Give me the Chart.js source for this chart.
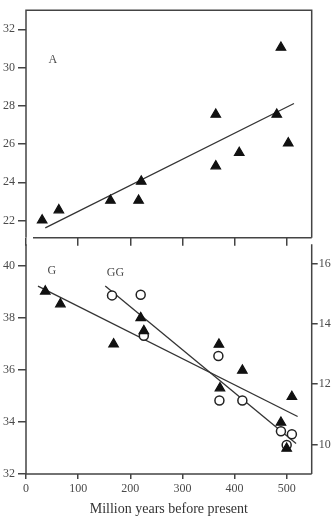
<!DOCTYPE html>
<html><head><meta charset="utf-8">
<script src="https://cdn.jsdelivr.net/npm/chart.js@4"></script>
<style>
html,body{margin:0;padding:0;background:#fff;}
#wrap{position:relative;width:335px;height:517px;overflow:hidden;background:#fff;}
canvas{position:absolute;left:0;}
#c1{top:0;}
#c2{top:234px;}
</style></head><body>
<div id="wrap">
<canvas id="c1" width="335" height="248"></canvas>
<canvas id="c2" width="335" height="283"></canvas>
</div>
<script>
// ---- Panel A (top) ----
const agesA   = [31, 63, 162, 216, 221, 364, 364, 409, 481, 489, 503];
const valuesA = [22.02, 22.55, 23.05, 23.05, 24.05, 27.55, 24.85, 25.55, 27.55, 31.05, 26.05];
const fitAges_A   = [37, 514];
const fitValues_A = [21.62, 28.12];

// ---- Panel G (bottom, left axis) ----
const agesG   = [37, 66, 168, 220, 226, 370, 372, 415, 489, 500, 510];
const valuesG = [39.02, 38.53, 36.99, 38.0, 37.5, 36.98, 35.3, 35.98, 33.98, 32.98, 34.97];
const fitAges_G   = [23, 521];
const fitValues_G = [39.22, 34.21];

// ---- Panel GG (bottom, right axis) ----
const agesGG   = [165, 220, 226, 369, 371, 415, 489, 510, 500];
const valuesGG = [14.95, 14.97, 13.61, 12.94, 11.46, 11.46, 10.44, 10.34, 9.98];
const fitAges_GG   = [152, 518];
const fitValues_GG = [15.26, 10.03];

// ---- tick labels ----
const xTicks   = [0, 100, 200, 300, 400, 500];
const yTicksA  = [22, 24, 26, 28, 30, 32];
const yTicksG  = [32, 34, 36, 38, 40];
const yTicksGG = [10, 12, 14, 16];
const xTitle = 'Million years before present';

const pts = (xs, ys) => xs.map((x, i) => ({x: x, y: ys[i]}));
const SERIF = "'Liberation Serif', 'DejaVu Serif', serif";
const LINE = '#444';
const TXT = '#4a4a4a';

const framePlugin = {
  id: 'frame',
  afterDraw(chart, args, o) {
    const {ctx, chartArea: a} = chart;
    ctx.save();
    ctx.strokeStyle = LINE; ctx.lineWidth = 1.5; ctx.lineCap = 'butt';
    ctx.beginPath();
    if (o.top) { ctx.moveTo(a.left, a.top); ctx.lineTo(a.right, a.top); }
    if (o.bottom) { ctx.moveTo(a.left + (o.bottomGap || 0), a.bottom); ctx.lineTo(a.right, a.bottom); }
    ctx.moveTo(a.left, a.top - (o.top ? 0.75 : 0)); ctx.lineTo(a.left, a.bottom + (o.extendDown || 0));
    ctx.moveTo(a.right, a.top - (o.top ? 0.75 : 0)); ctx.lineTo(a.right, a.bottom + (o.extendDown || 0));
    ctx.stroke();
    ctx.restore();
  }
};

const labelPlugin = {
  id: 'panelLabels',
  afterDatasetsDraw(chart, args, o) {
    const {ctx} = chart;
    ctx.save();
    ctx.fillStyle = TXT;
    ctx.font = "12px " + SERIF;
    ctx.textAlign = 'center'; ctx.textBaseline = 'middle';
    (o.items || []).forEach(it => {
      const px = chart.scales.x.getPixelForValue(it.x);
      const py = chart.scales[it.axis || 'y'].getPixelForValue(it.y);
      ctx.fillText(it.text, px, py);
    });
    ctx.restore();
  }
};

const setTicks = arr => (s => { s.ticks = arr.map(v => ({value: v})); });

// ---------- Top chart (A) ----------
new Chart(document.getElementById('c1'), {
  type: 'scatter',
  data: { datasets: [
    { data: pts(agesA, valuesA), pointStyle: 'triangle', pointRadius: 5.5, pointHoverRadius: 5.5,
      backgroundColor: '#111', borderColor: '#111', borderWidth: 1.2 },
    { data: pts(fitAges_A, fitValues_A), showLine: true, pointRadius: 0,
      borderColor: '#333', borderWidth: 1.3 }
  ]},
  options: {
    responsive: false, animation: false, devicePixelRatio: 1,
    layout: { padding: { top: 6, right: 23.3, left: 0, bottom: 0 } },
    plugins: {
      legend: {display: false}, tooltip: {enabled: false},
      frame: { top: true, bottom: true, bottomGap: 7, extendDown: 0 },
      panelLabels: { items: [ {text: 'A', x: 51.5, y: 30.43} ] }
    },
    scales: {
      x: { type: 'linear', min: 0, max: 548,
        afterBuildTicks: setTicks(xTicks),
        afterFit: s => { s.height = 8; },
        ticks: { display: false },
        grid: { drawOnChartArea: false, tickLength: 8, color: LINE, lineWidth: 1.5 },
        border: { display: false } },
      y: { type: 'linear', min: 21.1, max: 33.0,
        afterBuildTicks: setTicks(yTicksA),
        afterFit: s => { s.width = 26; },
        ticks: { font: {family: SERIF, size: 12}, color: TXT, padding: 3 },
        grid: { drawOnChartArea: false, tickLength: 8, color: LINE, lineWidth: 1.5 },
        border: { display: false } }
    }
  },
  plugins: [framePlugin, labelPlugin]
});

// ---------- Bottom chart (G / GG) ----------
new Chart(document.getElementById('c2'), {
  type: 'scatter',
  data: { datasets: [
    { data: pts(agesG, valuesG), yAxisID: 'y', pointStyle: 'triangle', pointRadius: 5.5, pointHoverRadius: 5.5,
      backgroundColor: '#111', borderColor: '#111', borderWidth: 1.2 },
    { data: pts(agesGG, valuesGG), yAxisID: 'y2', pointStyle: 'circle', pointRadius: 4.5, pointHoverRadius: 4.5,
      backgroundColor: '#fff', borderColor: '#222', borderWidth: 1.5 },
    { data: pts(fitAges_G, fitValues_G), yAxisID: 'y', showLine: true, pointRadius: 0,
      borderColor: '#333', borderWidth: 1.3 },
    { data: pts(fitAges_GG, fitValues_GG), yAxisID: 'y2', showLine: true, pointRadius: 0,
      borderColor: '#333', borderWidth: 1.3 }
  ]},
  options: {
    responsive: false, animation: false, devicePixelRatio: 1,
    layout: { padding: { top: 6, right: 0, left: 0, bottom: 0 } },
    plugins: {
      legend: {display: false}, tooltip: {enabled: false},
      frame: { top: false, bottom: true, bottomGap: 0 },
      panelLabels: { items: [ {text: 'G', x: 49.6, y: 39.82}, {text: 'GG', x: 171.5, y: 39.72} ] }
    },
    scales: {
      x: { type: 'linear', min: 0, max: 548,
        afterBuildTicks: setTicks(xTicks),
        afterFit: s => { s.height = 43; },
        ticks: { font: {family: SERIF, size: 12}, color: TXT, padding: 3, maxRotation: 0 },
        grid: { drawOnChartArea: false, tickLength: 5, color: LINE, lineWidth: 1.5 },
        border: { display: false },
        title: { display: true, text: xTitle, font: {family: SERIF, size: 14}, color: '#333', padding: {top: 0, bottom: -1} } },
      y: { type: 'linear', position: 'left', min: 32, max: 40.83,
        afterBuildTicks: setTicks(yTicksG),
        afterFit: s => { s.width = 26; },
        ticks: { font: {family: SERIF, size: 12}, color: TXT, padding: 3 },
        grid: { drawOnChartArea: false, tickLength: 8, color: LINE, lineWidth: 1.5 },
        border: { display: false } },
      y2: { type: 'linear', position: 'right', min: 9.02, max: 16.65,
        afterBuildTicks: setTicks(yTicksGG),
        afterFit: s => { s.width = 23.3; },
        ticks: { font: {family: SERIF, size: 12}, color: TXT, padding: 1 },
        grid: { drawOnChartArea: false, tickLength: 6, color: LINE, lineWidth: 1.5 },
        border: { display: false } }
    }
  },
  plugins: [framePlugin, labelPlugin]
});
</script>
</body></html>
